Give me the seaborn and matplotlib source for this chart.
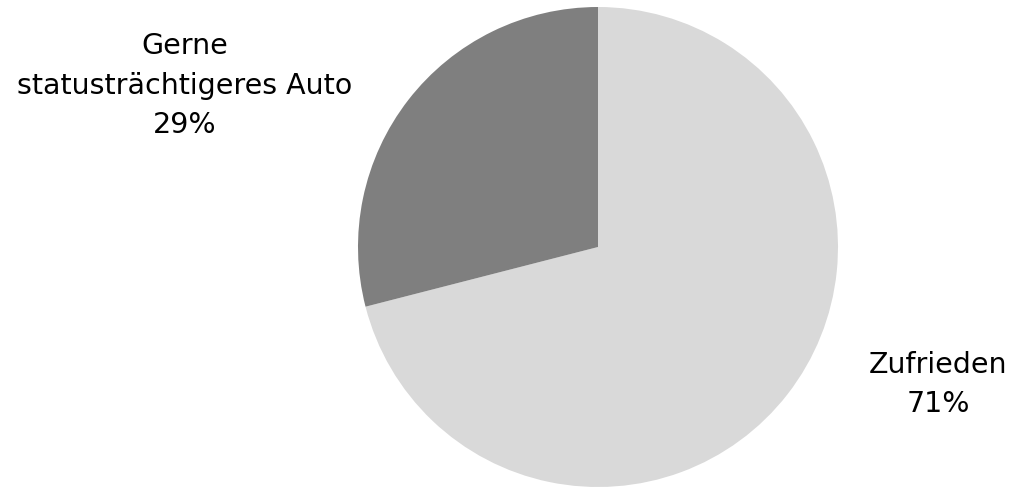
import seaborn as sns
import matplotlib.pyplot as plt

# Data
labels = ['Zufrieden', 'Gerne\nstatusträchtigeres Auto']
shares = [71, 29]
colors = ['#d9d9d9', '#7f7f7f']

sns.set_theme(style='white')
plt.rcParams['font.family'] = ['DejaVu Sans']

fig = plt.figure(figsize=(10.11, 4.88), dpi=100)
ax = fig.add_axes([0, 0, 1, 1])

wedges, _ = ax.pie(shares, colors=colors, startangle=90, counterclock=False,
                   radius=1, wedgeprops={'linewidth': 0})

# pixel layout: center (598, 247), radius 240
ax.set_xlim(-598 / 240, (1011 - 598) / 240)
ax.set_ylim(-241 / 240, 247 / 240)
ax.set_aspect('equal')
ax.axis('off')

# anchor = baseline of the last line
label_pos = [((938 - 598) / 240, (247 - 412) / 240),
             ((185 - 598) / 240, (247 - 133) / 240)]
for lab, val, (x, y) in zip(labels, shares, label_pos):
    ax.text(x, y, f'{lab}\n{val}%', ha='center', va='baseline', fontsize=20.5,
            color='black', linespacing=1.52)

plt.savefig('out.png', dpi=100)
